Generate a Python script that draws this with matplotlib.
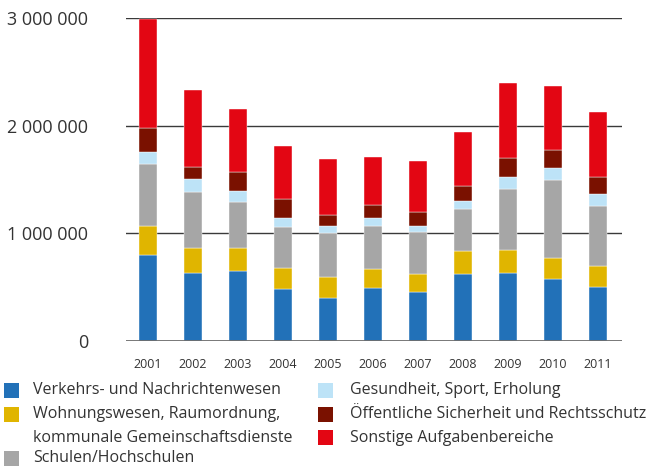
import numpy as np
import matplotlib
matplotlib.use("Agg")
import matplotlib.pyplot as plt
from matplotlib.patches import Rectangle

plt.rcParams['font.family'] = ['Open Sans', 'DejaVu Sans']

years = ["2001", "2002", "2003", "2004", "2005", "2006", "2007", "2008", "2009", "2010", "2011"]

# Ausgaben je Aufgabenbereich (in Einheiten, gestapelt)
verkehr = [797000, 630000, 649000, 481000, 400000, 493000, 456000, 623000, 636000, 577000, 506000]
wohnung = [273000, 239000, 220000, 198000, 199000, 177000, 171000, 212000, 208000, 193000, 192000]
schulen = [574000, 512000, 425000, 379000, 403000, 400000, 384000, 393000, 568000, 725000, 558000]
gesundheit = [115000, 127000, 99000, 87000, 65000, 72000, 59000, 69000, 108000, 112000, 109000]
sicherheit = [223000, 111000, 174000, 171000, 109000, 121000, 125000, 140000, 183000, 165000, 161000]
sonstige = [1008000, 714000, 589000, 496000, 518000, 446000, 483000, 508000, 692000, 598000, 599000]

series = [verkehr, wohnung, schulen, gesundheit, sicherheit, sonstige]
labels = ["Verkehrs- und Nachrichtenwesen",
          "Wohnungswesen, Raumordnung,\nkommunale Gemeinschaftsdienste",
          "Schulen/Hochschulen",
          "Gesundheit, Sport, Erholung",
          "Öffentliche Sicherheit und Rechtsschutz",
          "Sonstige Aufgabenbereiche"]
colors = ["#2271b8", "#e0b500", "#a6a6a6", "#bde3f7", "#7a1100", "#e30613"]

yticks = [0, 1000000, 2000000, 3000000]
yticklabels = ["0", "1 000 000", "2 000 000", "3 000 000"]

W, H = 650, 467
fig = plt.figure(figsize=(W / 100, H / 100), dpi=100)
ax = fig.add_axes([126 / W, 1 - 341 / H, (621.7 - 126) / W, (341 - 18.3) / H])

x = np.arange(len(years))
bottom = np.zeros(len(years))
for vals, col in zip(series, colors):
    ax.bar(x, vals, width=0.4, bottom=bottom, color=col,
           edgecolor="#ffffff", linewidth=0.3, zorder=2, clip_on=False)
    bottom += np.array(vals)

ax.set_xlim(-0.489, 10.527)
ax.set_ylim(0, 3000000)
ax.set_yticks(yticks)
ax.set_yticklabels(yticklabels)
ax.set_xticks(x)
ax.set_xticklabels(years)
ax.tick_params(axis="y", length=0, pad=27, labelsize=13, labelcolor="#333333")
ax.tick_params(axis="x", length=0, pad=12, labelsize=9, labelcolor="#333333")

for v in yticks[1:]:
    ax.axhline(v, color="#3a3a3a", lw=1.0, zorder=1)
ax.axhline(0, color="#6b6b6b", lw=2.0, zorder=3)
for s in ax.spines.values():
    s.set_visible(False)

# Legende in zwei Spalten
FS = 11.5

def legend_item(px, py, col):
    fig.patches.append(Rectangle((px / W, 1 - (py + 7.5) / H), 15 / W, 15 / H,
                                 transform=fig.transFigure, facecolor=col,
                                 edgecolor="none"))

rows1 = [390.5, 414.5, 458]
rows2 = [390.5, 414.5, 437.5]
for i in range(3):
    legend_item(4, rows1[i], colors[i])
    for k, line in enumerate(labels[i].split("\n")):
        fig.text(33 / W, 1 - (rows1[i] + 23 * k) / H, line, fontsize=FS,
                 color="#333333", va="center", ha="left")
for i in range(3):
    legend_item(318, rows2[i], colors[i + 3])
    fig.text(350 / W, 1 - rows2[i] / H, labels[i + 3], fontsize=FS,
             color="#333333", va="center", ha="left")

fig.savefig("out.png", dpi=100)
